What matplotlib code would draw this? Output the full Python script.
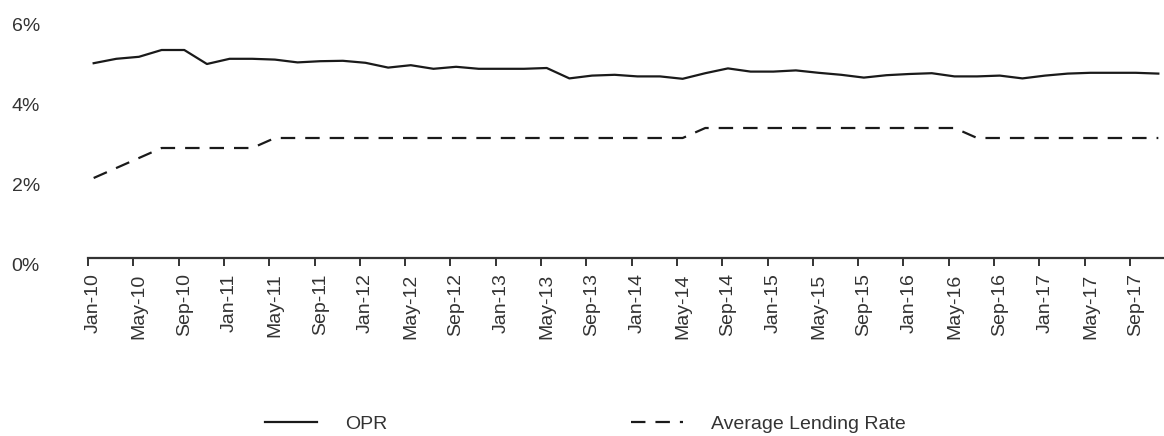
import numpy as np
import matplotlib
matplotlib.use('Agg')
import matplotlib.pyplot as plt
import matplotlib.transforms as mtransforms
from matplotlib.ticker import FixedLocator, FuncFormatter

plt.rcParams['font.family'] = ['Liberation Sans', 'DejaVu Sans']

# bi-monthly observations, Jan-10 .. Nov-17
opr = [4.87, 4.98, 5.03, 5.20, 5.20, 4.85, 4.98, 4.98,
       4.96, 4.89, 4.92, 4.93, 4.88, 4.76, 4.82, 4.73,
       4.78, 4.73, 4.73, 4.73, 4.75, 4.49, 4.56, 4.58,
       4.54, 4.54, 4.48, 4.62, 4.74, 4.66, 4.66, 4.69,
       4.63, 4.58, 4.51, 4.57, 4.60, 4.62, 4.54, 4.54,
       4.56, 4.49, 4.56, 4.61, 4.63, 4.63, 4.63, 4.61]

avg_lending = [2.00, 2.25, 2.50, 2.75, 2.75, 2.75, 2.75, 2.75,
               3.00, 3.00, 3.00, 3.00, 3.00, 3.00, 3.00, 3.00,
               3.00, 3.00, 3.00, 3.00, 3.00, 3.00, 3.00, 3.00,
               3.00, 3.00, 3.00, 3.25, 3.25, 3.25, 3.25, 3.25,
               3.25, 3.25, 3.25, 3.25, 3.25, 3.25, 3.25, 3.00,
               3.00, 3.00, 3.00, 3.00, 3.00, 3.00, 3.00, 3.00]

tick_labels = ['Jan-10', 'May-10', 'Sep-10', 'Jan-11', 'May-11', 'Sep-11',
               'Jan-12', 'May-12', 'Sep-12', 'Jan-13', 'May-13', 'Sep-13',
               'Jan-14', 'May-14', 'Sep-14', 'Jan-15', 'May-15', 'Sep-15',
               'Jan-16', 'May-16', 'Sep-16', 'Jan-17', 'May-17', 'Sep-17']

months = np.arange(len(opr)) * 2          # month index of each point
label_pos = np.arange(len(tick_labels)) * 4

text_col = '#333333'
line_col = '#1a1a1a'
fsize = 14

fig = plt.figure(figsize=(11.64, 4.36), dpi=100)
ax = fig.add_axes([88 / 1164, 178 / 436, 1076 / 1164, 240 / 436])

ax.plot(months, opr, color=line_col, lw=1.6, label='OPR')
ax.plot(months, avg_lending, color=line_col, lw=1.6, dashes=(6.5, 4.5),
        label='Average Lending Rate')

ax.set_xlim(-0.5, 94.5)
ax.set_ylim(0, 6)

# y axis: labels only
for side in ['left', 'right', 'top']:
    ax.spines[side].set_visible(False)
ax.spines['bottom'].set_color('#333333')
ax.spines['bottom'].set_linewidth(1.6)
ax.set_yticks([0, 2, 4, 6])
ax.yaxis.set_major_formatter(FuncFormatter(lambda v, p: f'{v:.0f}%'))
ax.tick_params(axis='y', length=0, pad=55, labelsize=fsize, labelcolor=text_col)
shift = mtransforms.ScaledTranslation(0, -5 / 72, fig.dpi_scale_trans)
for lbl in ax.get_yticklabels():
    lbl.set_horizontalalignment('left')
    lbl.set_transform(lbl.get_transform() + shift)

# x axis: tick marks between categories, labels at the month
ax.xaxis.set_major_locator(FixedLocator(label_pos - 0.5))
ax.xaxis.set_major_formatter(FuncFormatter(lambda v, p: ''))
ax.xaxis.set_minor_locator(FixedLocator(label_pos))
ax.set_xticklabels(tick_labels, minor=True, rotation=90)
ax.tick_params(axis='x', which='major', direction='out', length=6, width=1.4,
               color='#333333')
ax.tick_params(axis='x', which='minor', length=0, pad=11, labelsize=fsize,
               labelcolor=text_col)

leg = fig.legend(loc='center', bbox_to_anchor=(0.503, 0.028), ncol=2, frameon=False,
                 fontsize=fsize, handlelength=2.7, handletextpad=1.45,
                 columnspacing=12.5)
for t in leg.get_texts():
    t.set_color(text_col)

fig.savefig('out.png', dpi=100)
